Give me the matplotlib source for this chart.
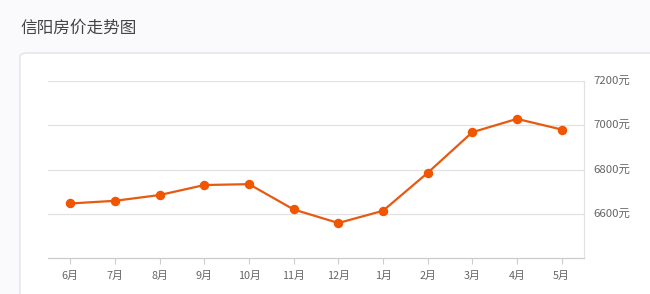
import matplotlib
matplotlib.use("Agg")
import matplotlib.pyplot as plt
from matplotlib.patches import FancyBboxPatch

plt.rcParams['font.family'] = ['Noto Sans CJK SC', 'DejaVu Sans']

months = ['6月', '7月', '8月', '9月', '10月', '11月', '12月', '1月', '2月', '3月', '4月', '5月']
prices = [6647, 6659, 6685, 6730, 6734, 6620, 6559, 6614, 6785, 6968, 7028, 6980]
yticks = [6600, 6800, 7000, 7200]
ytick_labels = ['6600元', '6800元', '7000元', '7200元']
title = '信阳房价走势图'

W, H = 650, 294
fig = plt.figure(figsize=(W / 100, H / 100), dpi=100)
fig.patch.set_facecolor('#fafafc')

card = FancyBboxPatch((20 / W, -0.1), 700 / W, (294 - 53) / H + 0.1,
                      boxstyle="round,pad=0,rounding_size=0.012",
                      transform=fig.transFigure, facecolor='white',
                      edgecolor='#e3e3e6', linewidth=1.0, zorder=-10)
fig.patches.append(card)

fig.text(20 / W, 1 - 28.5 / H, title, fontsize=12, color='#444444',
         va='center', ha='left')

ax = fig.add_axes([48 / W, 1 - 258.3 / H, (584 - 48) / W, (258.3 - 80.7) / H])
ax.set_zorder(5)
ax.set_facecolor('white')
x = list(range(len(months)))
ax.plot(x, prices, color='#e65a12', linewidth=1.6, marker='o',
        markersize=5.8, markerfacecolor='#f25500', markeredgecolor='#f25500',
        zorder=3, clip_on=False)
ax.set_xlim(-0.5, len(months) - 0.5)
ax.set_ylim(6400, 7200)
ax.set_xticks(x)
ax.set_xticklabels(months)
ax.set_yticks(yticks)
ax.set_yticklabels(ytick_labels)
ax.yaxis.tick_right()
ax.tick_params(axis='y', length=0, pad=7, labelsize=8.2, labelcolor='#666666')
ax.tick_params(axis='x', length=4, color='#cccccc', width=0.8, pad=5,
               labelsize=7.8, labelcolor='#666666')
ax.grid(axis='y', color='#e2e2e2', linewidth=0.9)
ax.set_axisbelow(True)
for s in ['left', 'top']:
    ax.spines[s].set_visible(False)
ax.spines['bottom'].set_color('#cccccc')
ax.spines['bottom'].set_linewidth(0.9)
ax.spines['right'].set_color('#e2e2e2')
ax.spines['right'].set_linewidth(0.9)

fig.savefig('out.png', dpi=100, facecolor=fig.get_facecolor())
